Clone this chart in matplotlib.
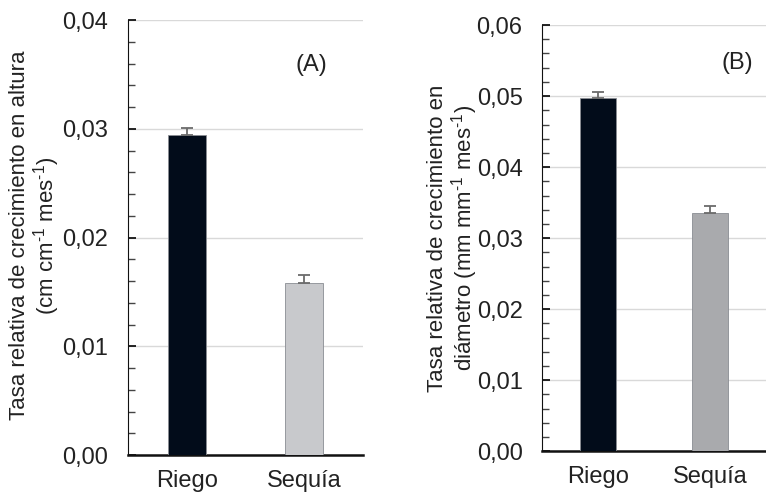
import matplotlib
matplotlib.use("Agg")
import matplotlib.pyplot as plt
from matplotlib.ticker import MultipleLocator, FuncFormatter

plt.rcParams['font.family'] = ['Liberation Sans', 'DejaVu Sans']
plt.rcParams['mathtext.fontset'] = 'custom'
plt.rcParams['mathtext.rm'] = 'Liberation Sans'
plt.rcParams['mathtext.it'] = 'Liberation Sans'
plt.rcParams['mathtext.default'] = 'regular'

# data
tratamientos = ["Riego", "Sequía"]
altura = [0.0294, 0.0158]
altura_err = [0.0007, 0.0008]
diametro = [0.0498, 0.0336]
diametro_err = [0.0008, 0.0009]

colores_a = ["#020c1a", "#c8c9cc"]
colores_b = ["#020c1a", "#a9aaad"]

coma = FuncFormatter(lambda v, pos: f"{v:.2f}".replace(".", ","))

fig = plt.figure(figsize=(7.66, 4.92), dpi=100)
ax_a = fig.add_axes([0.167, 0.075, 0.307, 0.884])
ax_b = fig.add_axes([0.7076, 0.083, 0.2924, 0.866])

sup = "$^{\u20101}$"  # short hyphen superscript, like the original


def panel(ax, vals, errs, cols, ymax, ylabel, tag, tagpos, labx):
    x = range(len(tratamientos))
    ax.bar(x, vals, width=0.32, color=cols, edgecolor="#8a8d93", linewidth=0.6, zorder=3)
    ax.errorbar(x, vals, yerr=[[0, 0], errs], fmt="none", ecolor="#6b6b6b",
                elinewidth=1.3, capsize=4, capthick=1.3, zorder=4)
    ax.set_xlim(-0.5, 1.5)
    ax.set_ylim(0, ymax)
    ax.yaxis.set_major_locator(MultipleLocator(0.01))
    ax.yaxis.set_minor_locator(MultipleLocator(0.002))
    ax.yaxis.set_major_formatter(coma)
    ax.grid(axis="y", which="major", color="#d9d9d9", linewidth=1.0, zorder=0)
    ax.set_xticks(list(x))
    ax.set_xticklabels(tratamientos, fontsize=17, color="#222222")
    ax.tick_params(axis="x", length=0, pad=11)
    ax.tick_params(axis="y", which="major", direction="in", length=6, width=1.2,
                   labelsize=17, pad=14, labelcolor="#222222")
    ax.tick_params(axis="y", which="minor", direction="in", length=5, width=1.0,
                   color="#444444")
    for s in ["top", "right"]:
        ax.spines[s].set_visible(False)
    ax.spines["left"].set_color("#111111")
    ax.spines["bottom"].set_linewidth(1.8)
    ax.spines["bottom"].set_color("#111111")
    ax.set_ylabel(ylabel, fontsize=16, linespacing=1.05, color="#222222")
    ax.yaxis.set_label_coords(labx[0], labx[1])
    ax.text(tagpos[0], tagpos[1], tag, transform=ax.transAxes, fontsize=17,
            ha="center", va="center", color="#222222")


panel(ax_a, altura, altura_err, colores_a, 0.04,
      "Tasa relativa de crecimiento en altura\n(cm cm" + sup + " mes" + sup + ")",
      "(A)", (0.78, 0.897), (-0.28, 0.505))
panel(ax_b, diametro, diametro_err, colores_b, 0.06,
      "Tasa relativa de crecimiento en\ndiámetro (mm mm" + sup + " mes" + sup + ")",
      "(B)", (0.87, 0.91), (-0.275, 0.5))

fig.savefig("out.png", dpi=100)
